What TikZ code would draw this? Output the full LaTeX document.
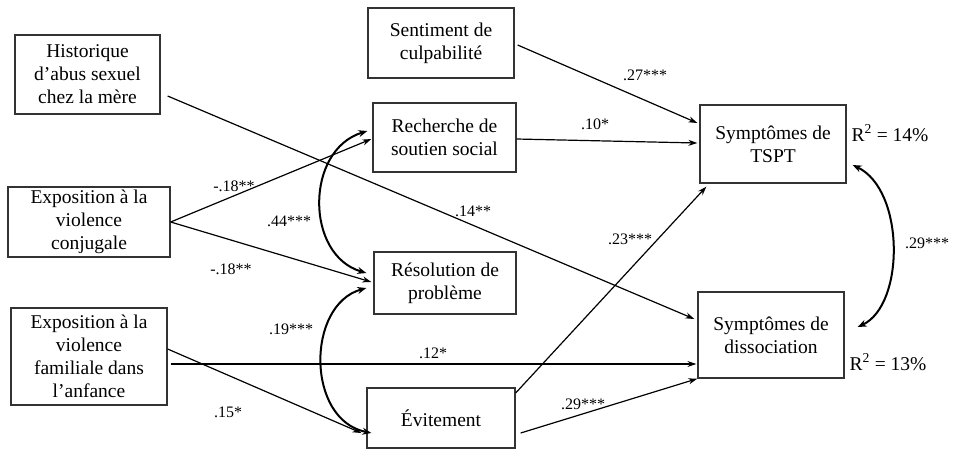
\documentclass[tikz,border=0pt]{standalone}
\usepackage{fontspec}
\setmainfont{Liberation Serif}
\usetikzlibrary{arrows.meta}
\tikzset{
  box/.style={draw=black!80, line width=1.3pt, fill=white, inner sep=0pt, align=center,
    font=\fontsize{19.5}{23}\selectfont},
  conn/.style={draw=black, line width=1.2pt, -{Stealth[length=9pt,width=6pt]}},
  corr/.style={draw=black, line width=2pt, {Stealth[length=9pt,width=7pt]}-{Stealth[length=9pt,width=7pt]}},
  coef/.style={font=\fontsize{16}{18}\selectfont, inner sep=0pt},
  rsq/.style={font=\fontsize{19.5}{22}\selectfont, inner sep=0pt}
}
\begin{document}
\begin{tikzpicture}[x=1pt,y=-1pt]
\useasboundingbox (0,0) rectangle (966,451);
% boxes
\node[box, minimum width=145pt, minimum height=79pt] (hist) at (87.5,74.5) {Historique\\d’abus sexuel\\chez la mère};
\node[box, minimum width=162pt, minimum height=70pt] (conj) at (89,222) {Exposition à la\\violence\\conjugale};
\node[box, minimum width=156pt, minimum height=97pt] (fam) at (89,356.5) {Exposition à la\\violence\\familiale dans\\l’anfance};
\node[box, minimum width=146pt, minimum height=70pt] (sent) at (441,43) {Sentiment de\\culpabilité};
\node[box, minimum width=143pt, minimum height=69pt] (rech) at (444.5,137.5) {Recherche de\\soutien social};
\node[box, minimum width=142pt, minimum height=62pt] (reso) at (445,283) {Résolution de\\problème};
\node[box, minimum width=148pt, minimum height=60pt] (evit) at (441,418) {Évitement};
\node[box, minimum width=146pt, minimum height=78pt] (tspt) at (773,144) {Symptômes de\\TSPT};
\node[box, minimum width=146pt, minimum height=86pt] (diss) at (771,335) {Symptômes de\\dissociation};
% straight paths
\draw[conn] ([xshift=7pt,yshift=-21.5pt]hist.east) -- ([xshift=-3pt,yshift=16pt]diss.west);
\draw[conn] (conj.east) -- ([xshift=-1pt,yshift=-1.5pt]rech.west);
\draw[conn] (conj.east) -- ([xshift=-2pt,yshift=1pt]reso.west);
\draw[conn] ([yshift=7.5pt]fam.east) -- ([xshift=-5pt,yshift=-15pt]evit.west);
\draw[conn] ([xshift=3pt,yshift=-7.5pt]fam.east) -- ([xshift=-1pt,yshift=-29pt]diss.west);
\draw[conn] ([xshift=3pt,yshift=-2pt]sent.east) -- ([xshift=-2pt,yshift=21pt]tspt.west);
\draw[conn] ([yshift=-1.5pt]rech.east) -- ([xshift=-2pt,yshift=1pt]tspt.west);
\draw[conn] ([yshift=25pt]evit.east) -- ([xshift=7pt,yshift=-3pt]tspt.south west);
\draw[conn] ([xshift=5pt,yshift=-15pt]evit.east) -- (diss.south west);
% correlations
\draw[corr] ([xshift=-5pt,yshift=6.5pt]rech.west) .. controls (305,150) and (305,255) .. ([xshift=-7pt,yshift=10pt]reso.west);
\draw[corr] ([xshift=-7pt,yshift=-5pt]reso.west) .. controls (306,305) and (306,420) .. ([xshift=5pt,yshift=-15pt]evit.west);
\draw[corr] ([xshift=6pt,yshift=-21pt]tspt.east) .. controls (905,190) and (905,305) .. ([xshift=13pt,yshift=8pt]diss.east);
% coefficients
\node[coef] (c1) at (645,75) {.27***};
\node[coef] (c2) at (595,124) {.10*};
\node[coef] (c3) at (473,211) {.14**};
\node[coef] (c4) at (630,239) {.23***};
\node[coef] (c5) at (433,353) {.12*};
\node[coef] (c6) at (583,404) {.29***};
\node[coef] (c7) at (234,186) {-.18**};
\node[coef] (c8) at (289,221) {.44***};
\node[coef] (c9) at (231,269) {-.18**};
\node[coef] (c10) at (291,329) {.19***};
\node[coef] (c11) at (228,412) {.15*};
\node[coef] (c12) at (927,243) {.29***};
\node[rsq] (r1) at (890,133) {R\textsuperscript{2} = 14\%};
\node[rsq] (r2) at (888,362) {R\textsuperscript{2} = 13\%};
\end{tikzpicture}
\end{document}
